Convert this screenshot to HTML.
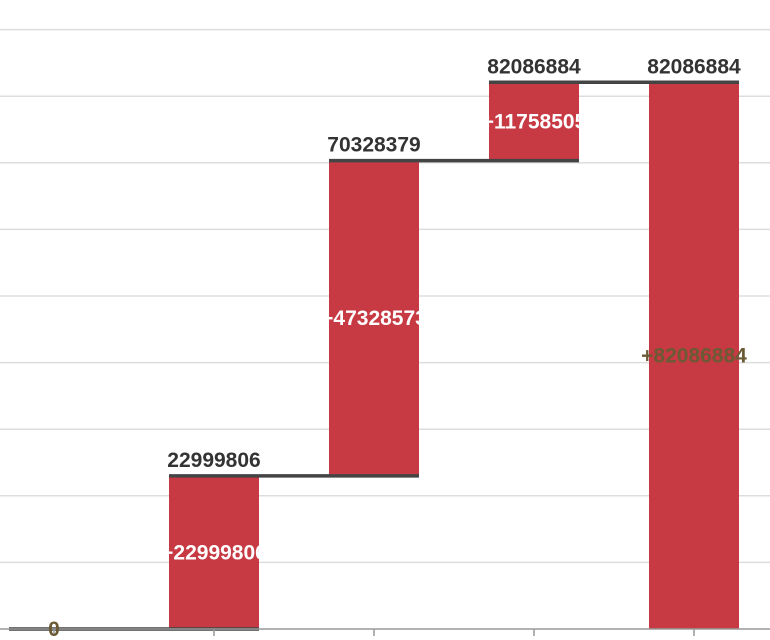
<!DOCTYPE html>
<html><head><meta charset="utf-8">
<style>
html,body{margin:0;padding:0;background:#fff;}
svg{display:block;font-family:"Liberation Sans",Arial,sans-serif;}
</style></head>
<body>
<svg id="chart" width="770" height="640" viewBox="0 0 770 640" xmlns="http://www.w3.org/2000/svg">
<g id="grid"></g>
<g id="bars"></g>
<g id="axis"></g>
<g id="labels"></g>
</svg>
<script>
const categories = ["start", "step1", "step2", "step3", "total"];
const deltas = [0, 22999806, 47328573, 11758505, 82086884];
const isTotal = [false, false, false, false, true];
const gridTicks = [10000000,20000000,30000000,40000000,50000000,60000000,70000000,80000000,90000000];

const NS = "http://www.w3.org/2000/svg";
const baseY = 629, pxPerUnit = 66.6/10000000;
const y = v => baseY - v*pxPerUnit;
const band = 160, firstCenter = 54, barW = 90;
const FS = 21;
const xc = i => firstCenter + i*band;
function mk(tag, attrs, parent){const e=document.createElementNS(NS,tag);for(const k in attrs)e.setAttribute(k,attrs[k]);parent.appendChild(e);return e;}
const svg=document.getElementById('chart');
const grid=document.getElementById('grid'), bars=document.getElementById('bars'), axis=document.getElementById('axis'), labels=document.getElementById('labels');
const defs=mk('defs',{},svg);

gridTicks.forEach(t=>{
  const l=mk('line',{x1:0,x2:770,y1:y(t),y2:y(t),stroke:'#dddddd','stroke-width':1.5},grid);
  
  
});

let run=0;
const tops=[];
categories.forEach((c,i)=>{
  let lo,hi;
  if(isTotal[i]){lo=0;hi=deltas[i];run=deltas[i];}
  else{lo=run;hi=run+deltas[i];run=hi;}
  tops.push(hi);
  const x0=xc(i)-barW/2;
  if(hi>lo){
    const r=mk('rect',{x:x0,y:y(hi),width:barW,height:y(lo)-y(hi),fill:'#c73a43'},bars);
    
    
    const cp=mk('clipPath',{id:'cp'+i},defs);
    mk('rect',{x:x0,y:y(hi),width:barW,height:y(lo)-y(hi)},cp);
  }
});

const ax=mk('line',{x1:0,x2:770,y1:baseY,y2:baseY,stroke:'#999','stroke-width':1.5},axis);


categories.forEach((c,i)=>{
  const t=mk('line',{x1:xc(i),x2:xc(i),y1:baseY,y2:baseY+7,stroke:'#999','stroke-width':1.5},axis);
  
  
});

categories.forEach((c,i)=>{
  const x0=xc(i)-barW/2;
  const x1=(i<categories.length-1)?xc(i+1)+barW/2:xc(i)+barW/2;
  const l=mk('line',{x1:x0,x2:x1,y1:y(tops[i]),y2:y(tops[i]),stroke:'#444','stroke-width':3.5},bars);
  
  
});

run=0;
categories.forEach((c,i)=>{
  let lo=isTotal[i]?0:run; const hi=tops[i]; run=hi;
  if(i>0){
    const t=mk('text',{x:xc(i),y:y(hi)-9,'text-anchor':'middle','font-size':FS,'font-weight':'bold',fill:'#333'},labels);
    t.textContent=String(hi);
    
    
  }
  const mid=(y(lo)+y(hi))/2;
  const d=mk('text',{x:xc(i),y:mid+7,'text-anchor':'middle','font-size':FS,'font-weight':'bold'},labels);
  if(i===0){d.textContent='0';d.setAttribute('fill','#6b5a34');}
  else if(isTotal[i]){d.textContent='+'+deltas[i];d.setAttribute('fill','#6b5a34');}
  else{d.textContent='+'+deltas[i];d.setAttribute('fill','#ffffff');d.setAttribute('clip-path','url(#cp'+i+')');}
  
  
});
</script>
</body></html>
